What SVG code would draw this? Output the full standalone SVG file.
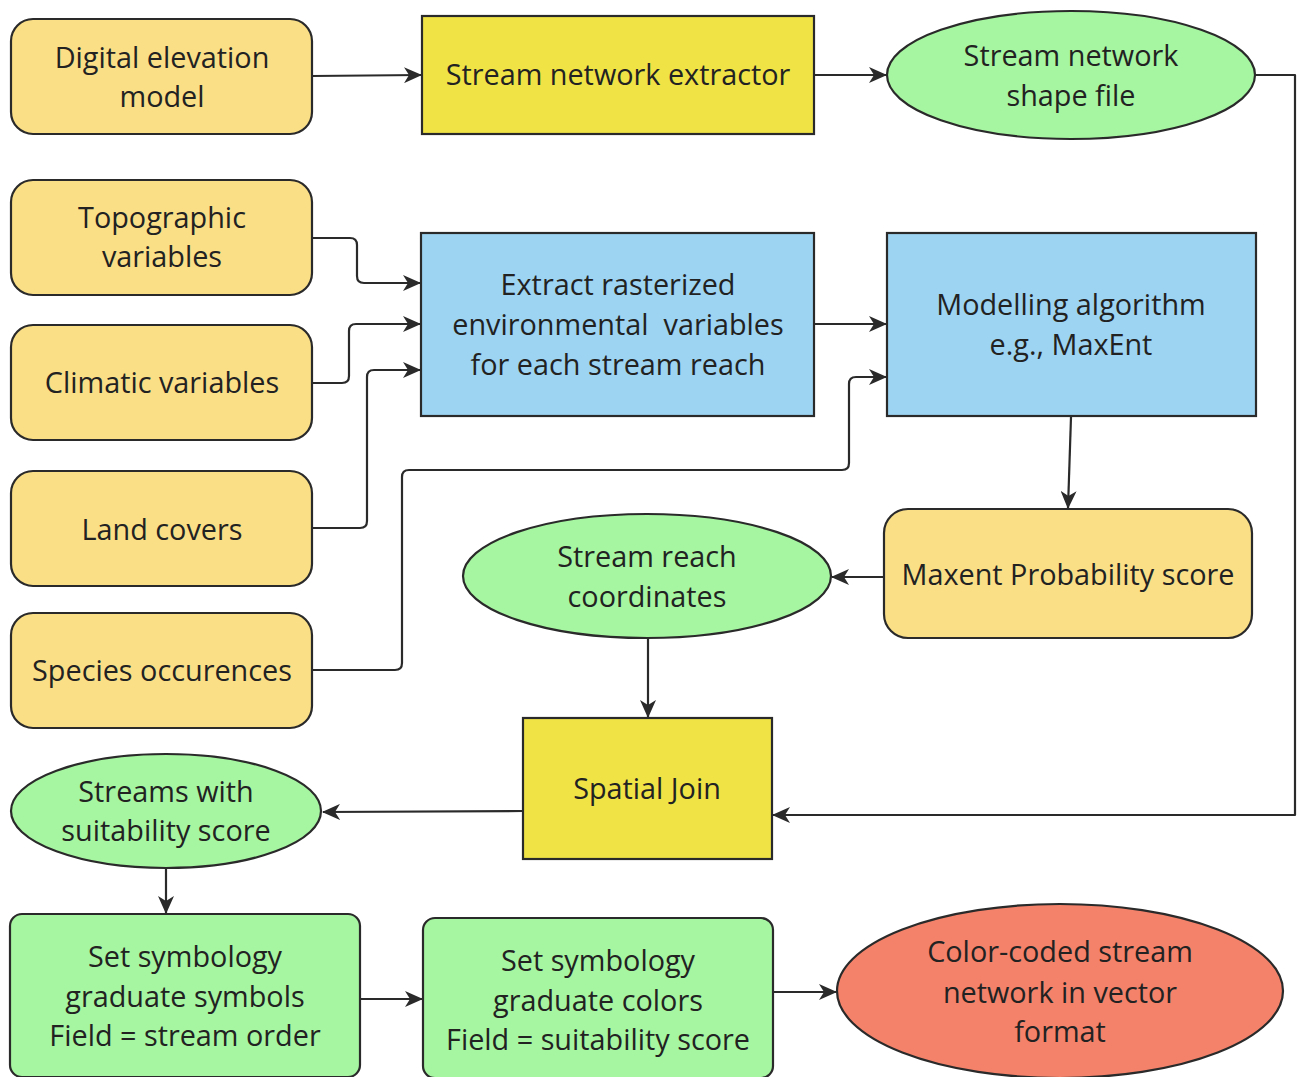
<svg xmlns="http://www.w3.org/2000/svg" width="1300" height="1077" viewBox="0 0 1300 1077">
<style>
.n{stroke:#2a2a2a;stroke-width:2.2}
.o{fill:#FADF87}
.y{fill:#F0E346}
.g{fill:#A6F6A1}
.b{fill:#9DD4F2}
.r{fill:#F4826A}
text{font-family:"Open Sans","Noto Sans","Liberation Sans",sans-serif;font-size:28.8px;fill:#222;text-anchor:middle}
.c path{fill:none;stroke:#2a2a2a;stroke-width:2.2;stroke-linejoin:round;marker-end:url(#ah)}
</style>
<defs>
<marker id="ah" viewBox="0 0 18 16" refX="17" refY="8" markerWidth="18" markerHeight="16" markerUnits="userSpaceOnUse" orient="auto">
<path d="M0,0 L18,8 L0,16 L5,8 Z" fill="#2a2a2a"/>
</marker>
</defs>
<rect width="1300" height="1077" fill="#fff"/>
<g class="c">
<path d="M312,76 L421,75"/>
<path d="M814,75 L886,75"/>
<path d="M1255,75 L1295,75 L1295,815 L773,815"/>
<path d="M312,238 L350,238 Q357,238 357,245 L357,276 Q357,283 364,283 L420,283"/>
<path d="M312,383 L342,383 Q349,383 349,376 L349,331 Q349,324 356,324 L420,324"/>
<path d="M312,528 L360,528 Q367,528 367,521 L367,377 Q367,370 374,370 L420,370"/>
<path d="M312,670 L395,670 Q402,670 402,663 L402,477 Q402,470 409,470 L842,470 Q849,470 849,463 L849,384 Q849,377 856,377 L886,377"/>
<path d="M814,324 L886,324"/>
<path d="M1071,417 L1068,508"/>
<path d="M884,577 L832,577"/>
<path d="M648,639 L648,717"/>
<path d="M523,811 L323,812"/>
<path d="M166,869 L166,913"/>
<path d="M360,999 L422,999"/>
<path d="M773,992 L836,992"/>
</g>
<g id="dem"><rect class="n o" x="11" y="19" width="301" height="115" rx="22"/><text x="162" y="68">Digital elevation</text><text x="162" y="107">model</text></g>
<g id="extractor"><rect class="n y" x="422" y="16" width="392" height="118"/><text x="618" y="85">Stream network extractor</text></g>
<g id="shapefile"><ellipse class="n g" cx="1071" cy="75" rx="184" ry="64"/><text x="1071" y="66">Stream network</text><text x="1071" y="106">shape file</text></g>
<g id="topo"><rect class="n o" x="11" y="180" width="301" height="115" rx="22"/><text x="162" y="228">Topographic</text><text x="162" y="267">variables</text></g>
<g id="climatic"><rect class="n o" x="11" y="325" width="301" height="115" rx="22"/><text x="162" y="393">Climatic variables</text></g>
<g id="land"><rect class="n o" x="11" y="471" width="301" height="115" rx="22"/><text x="162" y="540">Land covers</text></g>
<g id="species"><rect class="n o" x="11" y="613" width="301" height="115" rx="22"/><text x="162" y="681">Species occurences</text></g>
<g id="extract"><rect class="n b" x="421" y="233" width="393" height="183"/><text x="618" y="295">Extract rasterized</text><text x="618" y="335" xml:space="preserve">environmental  variables</text><text x="618" y="375">for each stream reach</text></g>
<g id="modelling"><rect class="n b" x="887" y="233" width="369" height="183"/><text x="1071" y="315">Modelling algorithm</text><text x="1071" y="355">e.g., MaxEnt</text></g>
<g id="maxent"><rect class="n o" x="884" y="509" width="368" height="129" rx="24"/><text x="1068" y="585">Maxent Probability score</text></g>
<g id="reach"><ellipse class="n g" cx="647" cy="576" rx="184" ry="62"/><text x="647" y="567">Stream reach</text><text x="647" y="607">coordinates</text></g>
<g id="join"><rect class="n y" x="523" y="718" width="249" height="141"/><text x="647" y="799">Spatial Join</text></g>
<g id="suit"><ellipse class="n g" cx="166" cy="811" rx="155" ry="57"/><text x="166" y="802">Streams with</text><text x="166" y="841">suitability score</text></g>
<g id="symb1"><rect class="n g" x="10" y="914" width="350" height="163" rx="12"/><text x="185" y="967">Set symbology</text><text x="185" y="1007">graduate symbols</text><text x="185" y="1046">Field = stream order</text></g>
<g id="symb2"><rect class="n g" x="423" y="918" width="350" height="160" rx="12"/><text x="598" y="971">Set symbology</text><text x="598" y="1011">graduate colors</text><text x="598" y="1050">Field = suitability score</text></g>
<g id="colorcoded"><ellipse class="n r" cx="1060" cy="991" rx="223" ry="87"/><text x="1060" y="962">Color-coded stream</text><text x="1060" y="1003">network in vector</text><text x="1060" y="1042">format</text></g>
</svg>
